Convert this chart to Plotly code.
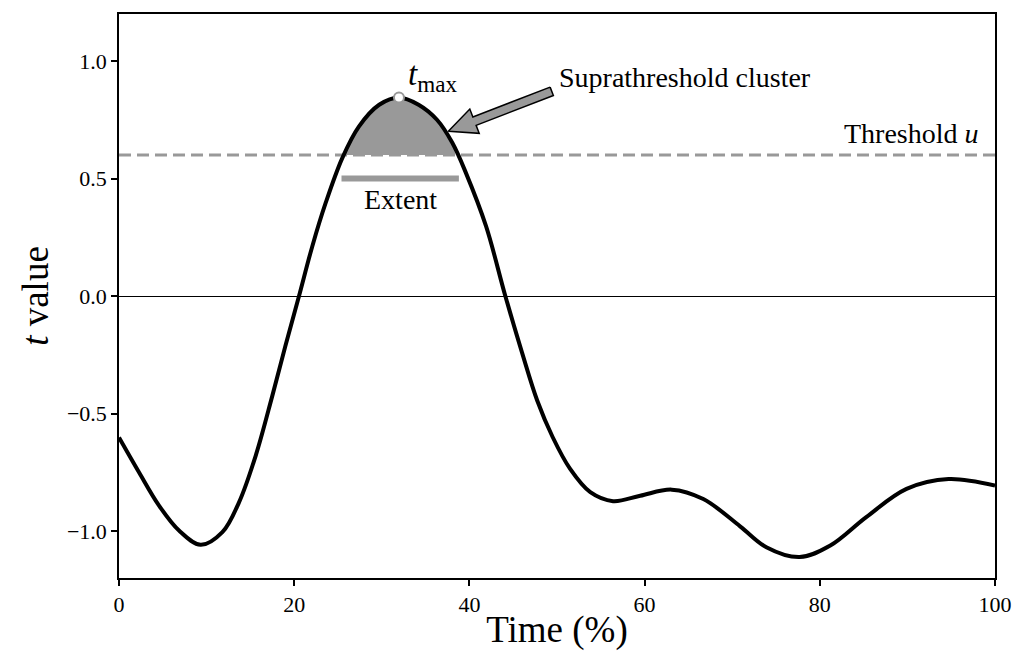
import numpy as np
import plotly.graph_objects as go

# ---- data ----
time_pct = [0, 2.28, 4.57, 6.85, 9.32, 11.8, 13.7, 15.6, 17.5, 19.0, 20.55, 22.07, 23.6,
            25.5, 27.4, 29.7, 31.96, 34.2, 36.3, 38.05, 39.6, 41.9, 44.1, 46.0, 47.75,
            49.5, 51.5, 53.8, 56.4, 59.5, 63.1, 66.7, 70.9, 73.9, 77.7, 81.2, 85.3,
            89.9, 94.7, 100]
t_values = [-0.602, -0.75, -0.892, -0.998, -1.059, -1.005, -0.878, -0.68, -0.425, -0.212,
            0.0, 0.212, 0.397, 0.588, 0.722, 0.814, 0.845, 0.814, 0.75, 0.652, 0.524,
            0.297, 0.0, -0.24, -0.446, -0.6, -0.736, -0.835, -0.873, -0.85, -0.824,
            -0.864, -0.98, -1.069, -1.111, -1.062, -0.941, -0.821, -0.779, -0.807]
threshold = 0.6
cluster_range = [25.75, 38.4]
extent_range = [25.4, 38.8]
extent_level = 0.5
tmax_time, tmax_value = 31.96, 0.845
arrow_tip = (37.6, 0.701)
arrow_tail = (49.4, 0.871)

y_ticks = [-1.0, -0.5, 0.0, 0.5, 1.0]
y_ticktext = ["\u22121.0", "\u22120.5", "0.0", "0.5", "1.0"]
x_ticks = [0, 20, 40, 60, 80, 100]

GRAY = "#999999"
FONT = "Liberation Serif, Times New Roman, serif"

W, H = 1018, 660
M = dict(l=119, r=23, t=14, b=82)
XR = [0, 100]
YR = [-1.2, 1.2]
px_per_x = (W - M["l"] - M["r"]) / (XR[1] - XR[0])
px_per_y = (H - M["t"] - M["b"]) / (YR[1] - YR[0])

tp = np.array(time_pct)
tv = np.array(t_values)
inside = (tp > cluster_range[0]) & (tp < cluster_range[1])
cx = [cluster_range[0]] + list(tp[inside]) + [cluster_range[1]]
cy = [threshold] + list(tv[inside]) + [threshold]

fig = go.Figure()

# baseline for the fill
fig.add_trace(go.Scatter(x=cluster_range, y=[threshold, threshold], mode="lines",
                         line=dict(width=0, color=GRAY), showlegend=False, hoverinfo="skip"))
fig.add_trace(go.Scatter(x=cx, y=cy, mode="lines", line=dict(width=0, color=GRAY, shape="spline"),
                         fill="tonexty", fillcolor=GRAY, showlegend=False, hoverinfo="skip"))

# threshold dashed line
fig.add_trace(go.Scatter(x=XR, y=[threshold, threshold], mode="lines",
                         line=dict(color=GRAY, width=3, dash="12px,6px"),
                         showlegend=False, hoverinfo="skip"))

# main curve
fig.add_trace(go.Scatter(x=time_pct, y=t_values, mode="lines",
                         line=dict(color="black", width=4, shape="spline", smoothing=1),
                         showlegend=False))

# extent bar
fig.add_trace(go.Scatter(x=extent_range, y=[extent_level, extent_level], mode="lines",
                         line=dict(color=GRAY, width=6), showlegend=False, hoverinfo="skip"))

# t max marker
fig.add_trace(go.Scatter(x=[tmax_time], y=[tmax_value], mode="markers",
                         marker=dict(size=10, color="white", line=dict(color=GRAY, width=2)),
                         showlegend=False))

# arrow polygon (built in pixel space, converted to data space)
tip = np.array([arrow_tip[0] * px_per_x, -arrow_tip[1] * px_per_y])
tail = np.array([arrow_tail[0] * px_per_x, -arrow_tail[1] * px_per_y])
d = tip - tail
L = np.hypot(*d)
u = d / L
n = np.array([-u[1], u[0]])
head_len, shaft_w, head_w = 28, 4.5, 13
base = tip - u * head_len
pts = [tail + n * shaft_w, base + n * shaft_w, base + n * head_w, tip,
       base - n * head_w, base - n * shaft_w, tail - n * shaft_w, tail + n * shaft_w]
ax_ = [p[0] / px_per_x for p in pts]
ay_ = [-p[1] / px_per_y for p in pts]
fig.add_trace(go.Scatter(x=ax_, y=ay_, mode="lines", fill="toself", fillcolor=GRAY,
                         line=dict(color="black", width=1.5), showlegend=False, hoverinfo="skip"))

# annotations
fig.add_annotation(x=tmax_time + 3.8, y=0.935, xref="x", yref="y",
                   text="<i>t</i><sub>max</sub>", showarrow=False,
                   font=dict(family=FONT, size=33, color="black"))
fig.add_annotation(x=arrow_tail[0] + 0.6, y=0.928, xref="x", yref="y", xanchor="left",
                   text="Suprathreshold cluster", showarrow=False,
                   font=dict(family=FONT, size=28, color="black"))
fig.add_annotation(x=(extent_range[0] + extent_range[1]) / 2, y=0.41, xref="x", yref="y",
                   text="Extent", showarrow=False,
                   font=dict(family=FONT, size=28, color="black"))
fig.add_annotation(x=98.4, y=0.69, xref="x", yref="y", xanchor="right",
                   text="Threshold <i>u</i>", showarrow=False,
                   font=dict(family=FONT, size=28, color="black"))

axis_common = dict(showgrid=False, showline=True, linecolor="black", linewidth=1.5,
                   mirror=True, ticks="outside", ticklen=6, tickwidth=1.5, tickcolor="black",
                   automargin=False,
                   tickfont=dict(family=FONT, size=22, color="black"))

fig.update_xaxes(range=XR, tickvals=x_ticks, zeroline=False,
                 title=dict(text="Time (%)", font=dict(family=FONT, size=37, color="black"),
                            standoff=0),
                 **axis_common)
fig.update_yaxes(range=YR, tickvals=y_ticks, ticktext=y_ticktext,
                 zeroline=True, zerolinecolor="black", zerolinewidth=1,
                 title=dict(text="<i>t</i> value", font=dict(family=FONT, size=37, color="black"),
                            standoff=7),
                 **axis_common)

fig.update_layout(width=W, height=H, margin=M, paper_bgcolor="white", plot_bgcolor="white",
                  showlegend=False)

fig.write_html("out.html", config={"displayModeBar": False},
               post_script="document.body.style.margin='0px';document.body.style.overflow='hidden';")
